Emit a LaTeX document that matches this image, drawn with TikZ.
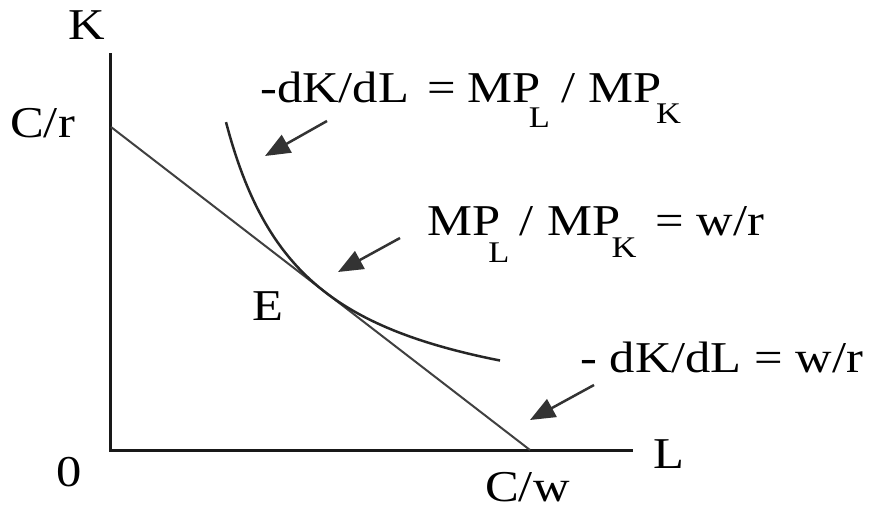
\documentclass[tikz,border=0pt]{standalone}
\usepackage{fontspec}
\setmainfont[FakeStretch=1.15]{Liberation Serif}
\usetikzlibrary{arrows.meta}
\newcommand{\subf}{\fontsize{30}{30}\selectfont}
\begin{document}
\begin{tikzpicture}[x=1pt,y=-1pt,
  lbl/.style={inner sep=0pt,anchor=base west,font=\fontsize{44}{50}\selectfont},
  axis/.style={line width=3pt,black!90},
  budget/.style={line width=2pt,black!75},
  curvestyle/.style={line width=2.5pt,black!85},
  pointer/.style={line width=2.5pt,black!80,-{Triangle[length=25pt,width=20pt]}}]
\useasboundingbox (0,0) rectangle (873,506);
% axes
\coordinate (Ktop) at (110,53);
\coordinate (O) at (110,450);
\coordinate (Lend) at (633,450);
\draw[axis] (Ktop) -- (O) -- (Lend);
% budget line
\coordinate (Bstart) at (111,127);
\coordinate (Bend) at (530,450);
\draw[budget] (Bstart) -- (Bend);
% isoquant
\draw[curvestyle] plot[domain=226:500,samples=100] (\x,{431-250.2/(\x/100-1.45)});
% labels
\node[lbl] (Klab) at (68,39) {K};
\node[lbl] (Cr) at (10,137) {C/r};
\node[lbl] (zero) at (56,486) {0};
\node[lbl] (E) at (252,320) {E};
\node[lbl] (Llab) at (653,468) {L};
\node[lbl] (Cw) at (485,501) {C/w};
\node[lbl] (lab1) at (260,102) {-dK/dL\hspace{18pt}=\hspace{12pt}MP\hspace{-12pt}\raisebox{-25pt}{\subf L}\hspace{12pt}/\hspace{13pt}MP\hspace{-6pt}\raisebox{-21pt}{\subf K}};
\node[lbl] (lab2) at (427,235) {MP\hspace{-12pt}\raisebox{-27pt}{\subf L}\hspace{10pt}/\hspace{14pt}MP\hspace{-9pt}\raisebox{-22pt}{\subf K}\hspace{19pt}= w/r};
\node[lbl] (lab3) at (580,372) {- dK/dL = w/r};
% arrows
\coordinate (a1t) at (327,121);
\coordinate (a1h) at (265,156);
\coordinate (a2t) at (400,238);
\coordinate (a2h) at (338,272);
\coordinate (a3t) at (594,385);
\coordinate (a3h) at (530,420);
\draw[pointer] (a1t) -- (a1h);
\draw[pointer] (a2t) -- (a2h);
\draw[pointer] (a3t) -- (a3h);
\end{tikzpicture}
\end{document}
